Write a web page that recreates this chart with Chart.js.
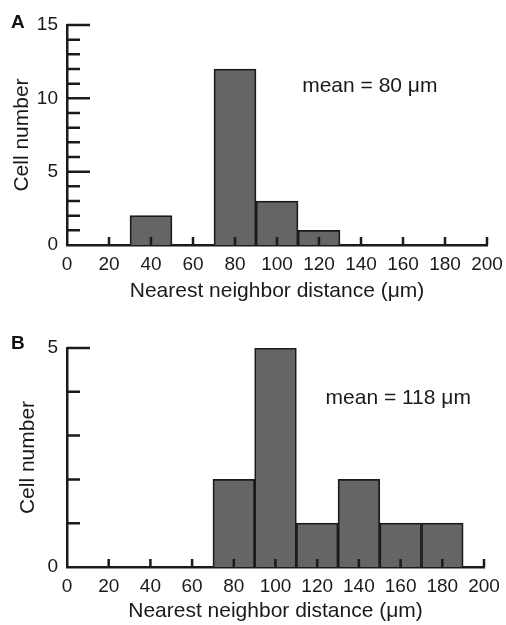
<!DOCTYPE html>
<html>
<head>
<meta charset="utf-8">
<script src="https://cdn.jsdelivr.net/npm/chart.js@4"></script>
<style>
  body { margin: 0; background: #fff; width: 506px; height: 625px; position: relative; overflow: hidden; }
  .panel { position: absolute; left: 0; width: 506px; }
  .tag { position: absolute; left: 11px; font: bold 19px "Liberation Sans", Arial, sans-serif; color: #111; }
</style>
</head>
<body>
<div class="panel" style="top:0;height:305px"><canvas id="chartA" width="506" height="305"></canvas></div>
<div class="panel" style="top:310px;height:315px"><canvas id="chartB" width="506" height="315"></canvas></div>
<div class="tag" style="top:11px">A</div>
<div class="tag" style="top:332px">B</div>
<script>
// bin centres (um) and counts, 20 um bins
const binsA = [40, 80, 100, 120]
const countsA = [2, 12, 3, 1]
const binsB = [80, 100, 120, 140, 160, 180]
const countsB = [2, 5, 1, 2, 1, 1]
const xTickValues = [20, 40, 60, 80, 100, 120, 140, 160, 180, 200]
const meanA = 'mean = 80 \u03bcm'
const meanB = 'mean = 118 \u03bcm'

const font = "'Liberation Sans', Arial, sans-serif"
const ink = '#1a1a1a'

// ticks pointing inward + the mean label
const inwardTicks = {
  id: 'inwardTicks',
  afterDatasetsDraw(chart, args, opts) {
    const ctx = chart.ctx
    const x = chart.scales.x, y = chart.scales.y
    ctx.save()
    ctx.strokeStyle = ink
    ctx.lineWidth = 2.5
    ctx.beginPath()
    for (let v = 1; v <= y.max; v++) {
      const py = y.getPixelForValue(v)
      const len = v % 5 === 0 ? 23 : 13
      ctx.moveTo(x.left, py)
      ctx.lineTo(x.left + len, py)
    }
    xTickValues.forEach(v => {
      const px = x.getPixelForValue(v)
      ctx.moveTo(px, y.bottom)
      ctx.lineTo(px, y.bottom - 8)
    })
    ctx.stroke()
    ctx.fillStyle = ink
    ctx.font = '21px ' + font
    ctx.textAlign = 'left'
    ctx.textBaseline = 'middle'
    ctx.fillText(opts.text, x.getPixelForValue(opts.tx), y.getPixelForValue(opts.ty))
    ctx.restore()
  }
}

function makeChart(id, bins, counts, ymax, pad, xHeight, yTitlePad, text, tx, ty) {
  return new Chart(document.getElementById(id), {
    type: 'bar',
    data: {
      datasets: [{
        data: bins.map((b, i) => ({ x: b, y: counts[i] })),
        backgroundColor: '#656565',
        borderColor: ink,
        borderWidth: 1.75,
        barPercentage: 1,
        categoryPercentage: 1
      }]
    },
    options: {
      responsive: false,
      animation: false,
      layout: { padding: pad },
      plugins: {
        legend: { display: false },
        tooltip: { enabled: false },
        inwardTicks: { text: text, tx: tx, ty: ty }
      },
      scales: {
        x: {
          type: 'linear',
          min: 0, max: 200,
          offset: false,
          grid: { display: false, drawTicks: false },
          border: { display: true, color: ink, width: 2.5 },
          ticks: { stepSize: 20, color: ink, padding: 8, font: { family: font, size: 19 } },
          title: { display: true, text: 'Nearest neighbor distance (\u03bcm)', color: ink, font: { family: font, size: 21 }, padding: { top: 0, bottom: 1.4 } },
          afterFit: s => { s.height = xHeight; s.paddingLeft = 0; s.paddingRight = 0 }
        },
        y: {
          min: 0, max: ymax,
          grid: { display: false, drawTicks: false },
          border: { display: true, color: ink, width: 2.5 },
          ticks: { stepSize: 5, color: ink, padding: 9, font: { family: font, size: 19 } },
          title: { display: true, text: 'Cell number', color: ink, font: { family: font, size: 21 }, padding: { top: yTitlePad, bottom: 0 } },
          afterFit: s => { s.width = 67; s.paddingTop = 0; s.paddingBottom = 0 }
        }
      }
    },
    plugins: [inwardTicks]
  })
}

makeChart('chartA', binsA, countsA, 15, { top: 25, right: 19, left: 0, bottom: 0 }, 60, 9.4, meanA, 112, 10.8)
makeChart('chartB', binsB, countsB, 5, { top: 38, right: 22, left: 0, bottom: 0 }, 58, 15.4, meanB, 124, 3.86)
</script>
</body>
</html>
